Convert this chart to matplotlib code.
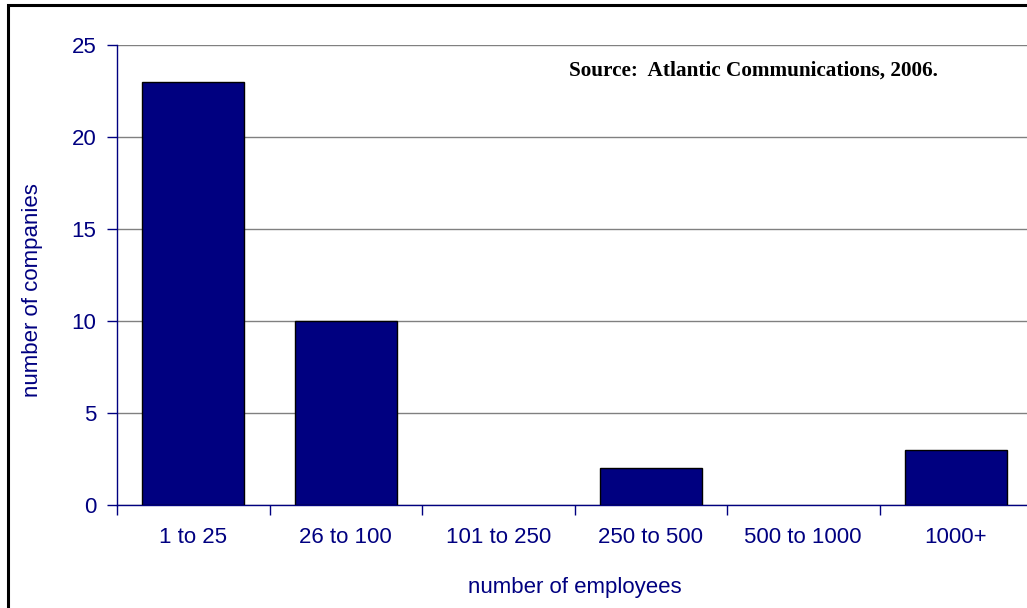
import matplotlib
matplotlib.use("Agg")
import matplotlib.pyplot as plt
from matplotlib.patches import Rectangle

categories = ["1 to 25", "26 to 100", "101 to 250", "250 to 500", "500 to 1000", "1000+"]
values = [23, 10, 0, 2, 0, 3]
yticks = [0, 5, 10, 15, 20, 25]

navy = "#000080"
plt.rcParams['font.family'] = ['Liberation Sans', 'DejaVu Sans']

fig = plt.figure(figsize=(10.27, 6.08), dpi=100)
ax = fig.add_axes([117/1027, 103/608, 915/1027, 460/608])

x = list(range(len(categories)))
edges = ["black" if v > 0 else "none" for v in values]
ax.bar(x, values, width=0.67, color=navy, edgecolor=edges, linewidth=1, zorder=3)

ax.set_xlim(-0.5, len(categories) - 0.5)
ax.set_ylim(0, 25)
ax.set_yticks(yticks)
ax.set_xticks(x)
ax.set_xticklabels(categories)
ax.set_xticks([i - 0.5 for i in range(len(categories) + 1)], minor=True)
ax.tick_params(axis='x', which='major', length=0, pad=16, labelsize=16, labelcolor=navy)
ax.tick_params(axis='x', which='minor', length=7, color=navy, direction='out', width=1)
ax.tick_params(axis='y', length=7, color=navy, direction='out', width=1, labelsize=16,
               labelcolor=navy, pad=8)

ax.yaxis.grid(True, color="#808080", linewidth=1, zorder=0)
ax.set_axisbelow(True)
for s in ['top', 'right']:
    ax.spines[s].set_visible(False)
for s in ['left', 'bottom']:
    ax.spines[s].set_color(navy)
    ax.spines[s].set_linewidth(1)

fig.text(33/1027, 1 - 290/608, "number of companies", rotation=90, ha='center', va='center',
         fontsize=16, color=navy)
fig.text(575/1027, 1 - 588/608, "number of employees", ha='center', va='center',
         fontsize=16, color=navy)

fig.text(938/1027, 1 - 71/608, "Source:  Atlantic Communications, 2006.", ha='right', va='center',
         fontsize=15.3, fontweight='bold', family=['Liberation Serif', 'DejaVu Serif'], color='black')

fig.patches.append(Rectangle((8/1027, -0.1), 1.2, 1 - 5/608 + 0.1, transform=fig.transFigure,
                             fill=False, edgecolor='black', linewidth=2.2, zorder=10))

fig.savefig("out.png", dpi=100)
